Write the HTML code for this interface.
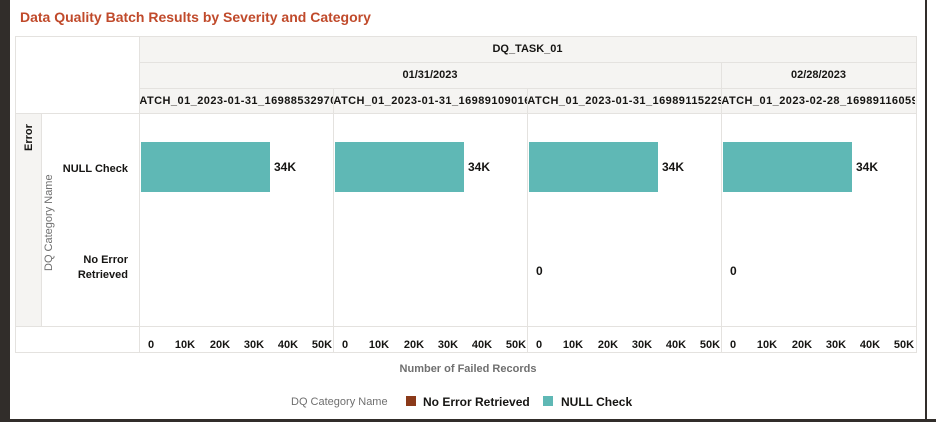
<!DOCTYPE html>
<html><head><meta charset="utf-8"><style>
*{margin:0;padding:0;box-sizing:border-box}
body{width:936px;height:422px;background:#fff;position:relative;overflow:hidden;font-family:"Liberation Sans",sans-serif;color:#161513}
div{position:absolute}
.b{font-weight:bold;font-size:11px;white-space:nowrap}
.hd{background:#f5f4f2}
.vl{background:#e4e2df;width:1px}
.hl{background:#e4e2df;height:1px}
.bar{background:#5fb8b5;top:142px;height:50px;width:129px}
.tk{font-weight:bold;font-size:11px;top:339px;width:30px;text-align:center}
.bt{letter-spacing:0.45px}
</style></head><body>
<div style="left:0;top:0;width:10px;height:422px;background:#312d2a"></div>
<div style="left:0;top:419px;width:936px;height:3px;background:#312d2a"></div>
<div style="left:925px;top:0;width:2px;height:422px;background:#312d2a"></div>
<div style="left:20px;top:9px;font-size:14px;font-weight:bold;color:#c04a2b">Data Quality Batch Results by Severity and Category</div>

<div style="left:15px;top:36px;width:902px;height:317px;border:1px solid #e4e2df"></div>
<div class="hd" style="left:139px;top:37px;width:777px;height:76px"></div>
<div class="hd" style="left:16px;top:113px;width:25px;height:213px"></div>
<div class="hl" style="left:139px;top:62px;width:777px"></div>
<div class="hl" style="left:139px;top:88px;width:777px"></div>
<div class="hl" style="left:16px;top:113px;width:900px"></div>
<div class="hl" style="left:16px;top:326px;width:900px"></div>
<div class="vl" style="left:139px;top:37px;height:315px"></div>
<div class="vl" style="left:41px;top:113px;height:213px"></div>
<div class="vl" style="left:721px;top:62px;height:290px"></div>
<div class="vl" style="left:333px;top:88px;height:264px"></div>
<div class="vl" style="left:527px;top:88px;height:264px"></div>

<div class="b" style="left:139px;top:43px;width:777px;text-align:center">DQ_TASK_01</div>
<div class="b" style="left:139px;top:69px;width:582px;text-align:center">01/31/2023</div>
<div class="b" style="left:721px;top:69px;width:195px;text-align:center">02/28/2023</div>
<div class="b bt" style="left:140px;top:95px;width:193px;overflow:hidden"><span style="position:relative;left:-9px">BATCH_01_2023-01-31_16988532970</span></div>
<div class="b bt" style="left:334px;top:95px;width:193px;overflow:hidden"><span style="position:relative;left:-9px">BATCH_01_2023-01-31_16989109016</span></div>
<div class="b bt" style="left:528px;top:95px;width:193px;overflow:hidden"><span style="position:relative;left:-9px">BATCH_01_2023-01-31_16989115229</span></div>
<div class="b bt" style="left:722px;top:95px;width:193px;overflow:hidden"><span style="position:relative;left:-9px">BATCH_01_2023-02-28_16989116059</span></div>

<div class="b" style="left:23px;top:151px;transform:rotate(-90deg);transform-origin:0 0">Error</div>
<div style="left:43px;top:271px;transform:rotate(-90deg);transform-origin:0 0;font-size:11px;color:#6f6f6f;white-space:nowrap">DQ Category Name</div>
<div class="b" style="left:50px;top:163px;width:78px;text-align:right">NULL Check</div>
<div class="b" style="left:50px;top:253px;width:78px;text-align:right;line-height:15px">No Error<br>Retrieved</div>

<div class="bar" style="left:141px"></div>
<div class="bar" style="left:335px"></div>
<div class="bar" style="left:529px"></div>
<div class="bar" style="left:723px"></div>
<div class="b" style="left:274px;top:160px;font-size:12px">34K</div>
<div class="b" style="left:468px;top:160px;font-size:12px">34K</div>
<div class="b" style="left:662px;top:160px;font-size:12px">34K</div>
<div class="b" style="left:856px;top:160px;font-size:12px">34K</div>
<div class="b" style="left:536px;top:264px;font-size:12px">0</div>
<div class="b" style="left:730px;top:264px;font-size:12px">0</div>

<div class="tk" style="left:136px">0</div><div class="tk" style="left:170px">10K</div><div class="tk" style="left:205px">20K</div><div class="tk" style="left:239px">30K</div><div class="tk" style="left:273px">40K</div><div class="tk" style="left:307px">50K</div>
<div class="tk" style="left:330px">0</div><div class="tk" style="left:364px">10K</div><div class="tk" style="left:399px">20K</div><div class="tk" style="left:433px">30K</div><div class="tk" style="left:467px">40K</div><div class="tk" style="left:501px">50K</div>
<div class="tk" style="left:524px">0</div><div class="tk" style="left:558px">10K</div><div class="tk" style="left:593px">20K</div><div class="tk" style="left:627px">30K</div><div class="tk" style="left:661px">40K</div><div class="tk" style="left:695px">50K</div>
<div class="tk" style="left:718px">0</div><div class="tk" style="left:752px">10K</div><div class="tk" style="left:787px">20K</div><div class="tk" style="left:821px">30K</div><div class="tk" style="left:855px">40K</div><div class="tk" style="left:889px">50K</div>

<div class="b" style="left:0;width:936px;text-align:center;top:363px;color:#6f6f6f">Number of Failed Records</div>
<div style="left:291px;top:396px;font-size:11px;color:#6f6f6f">DQ Category Name</div>
<div style="left:406px;top:396px;width:10px;height:10px;background:#8b3a1a"></div>
<div class="b" style="left:423px;top:395px;font-size:12px">No Error Retrieved</div>
<div style="left:543px;top:396px;width:10px;height:10px;background:#5fb8b5"></div>
<div class="b" style="left:561px;top:395px;font-size:12px">NULL Check</div>
</body></html>
